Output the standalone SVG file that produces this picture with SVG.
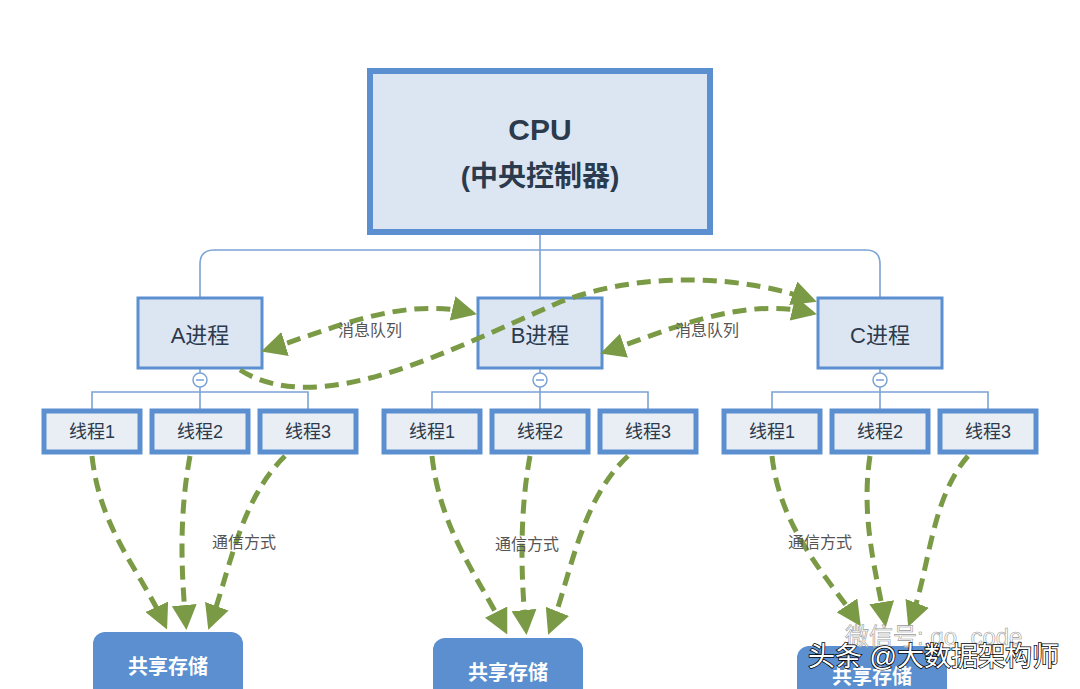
<svg xmlns="http://www.w3.org/2000/svg" width="1080" height="689" viewBox="0 0 1080 689">
<style>
.t{font-family:"Liberation Sans","Noto Sans CJK SC",sans-serif;text-anchor:middle;fill:#2b3a4d}
.box{fill:#dce6f2;stroke:#5b8fd0}
.th{fill:#e9eef5;stroke:#5b8fd0;stroke-width:5}
.ln{fill:none;stroke:#7ba3d6;stroke-width:1.6}
.g{fill:none;stroke:#7a9a45;stroke-width:5;stroke-dasharray:14 8}
.lab{font-family:"Liberation Sans","Noto Sans CJK SC",sans-serif;font-size:16px;fill:#555;text-anchor:middle}
.st{fill:#5b8fd0}
.stt{font-family:"Liberation Sans","Noto Sans CJK SC",sans-serif;font-size:20px;font-weight:bold;fill:#fff;text-anchor:middle}
</style>
<defs>
<marker id="ah" viewBox="0 0 10 10" refX="8" refY="5" markerWidth="5" markerHeight="5" orient="auto-start-reverse" markerUnits="strokeWidth"><path d="M0 0L10 5L0 10z" fill="#7a9a45"/></marker>
</defs>
<rect width="1080" height="689" fill="#fff"/>
<g id="tree-lines">
<path class="ln" d="M540 232V250M200 298V264Q200 250 214 250H866Q880 250 880 264V298M540 250V298"/>
<path class="ln" d="M200 368V373M200 387V392M92 410V392H308V410M200 392V410"/>
<path class="ln" d="M540 368V373M540 387V392M432 410V392H648V410M540 392V410"/>
<path class="ln" d="M880 368V373M880 387V392M772 410V392H988V410M880 392V410"/>
<g fill="#fff" stroke="#7ba3d6" stroke-width="1.5"><circle cx="200" cy="380" r="7"/><circle cx="540" cy="380" r="7"/><circle cx="880" cy="380" r="7"/></g>
<path d="M196 380h8M536 380h8M876 380h8" stroke="#7ba3d6" stroke-width="1.5"/>
</g>
<g id="cpu"><rect class="box" x="370" y="71" width="340" height="161" stroke-width="6"/>
<text class="t" x="540" y="140" font-size="30" font-weight="bold">CPU</text>
<text class="t" x="540" y="186" font-size="28" font-weight="bold">(中央控制器)</text></g>
<g id="procA"><rect class="box" x="138" y="298" width="124" height="70" stroke-width="3"/><text class="t" x="200" y="343" font-size="22">A进程</text></g>
<g id="procB"><rect class="box" x="478" y="298" width="124" height="70" stroke-width="3"/><text class="t" x="540" y="343" font-size="22">B进程</text></g>
<g id="procC"><rect class="box" x="818" y="298" width="124" height="70" stroke-width="3"/><text class="t" x="880" y="343" font-size="22">C进程</text></g>
<g id="threads">
<g><rect class="th" x="44" y="411" width="96" height="41"/><text class="t" x="92" y="438" font-size="18">线程1</text></g>
<g><rect class="th" x="152" y="411" width="96" height="41"/><text class="t" x="200" y="438" font-size="18">线程2</text></g>
<g><rect class="th" x="260" y="411" width="96" height="41"/><text class="t" x="308" y="438" font-size="18">线程3</text></g>
<g><rect class="th" x="384" y="411" width="96" height="41"/><text class="t" x="432" y="438" font-size="18">线程1</text></g>
<g><rect class="th" x="492" y="411" width="96" height="41"/><text class="t" x="540" y="438" font-size="18">线程2</text></g>
<g><rect class="th" x="600" y="411" width="96" height="41"/><text class="t" x="648" y="438" font-size="18">线程3</text></g>
<g><rect class="th" x="724" y="411" width="96" height="41"/><text class="t" x="772" y="438" font-size="18">线程1</text></g>
<g><rect class="th" x="832" y="411" width="96" height="41"/><text class="t" x="880" y="438" font-size="18">线程2</text></g>
<g><rect class="th" x="940" y="411" width="96" height="41"/><text class="t" x="988" y="438" font-size="18">线程3</text></g>
</g>
<g id="storage">
<g><rect class="st" x="93" y="632" width="150" height="70" rx="12"/><text class="stt" x="168" y="674">共享存储</text></g>
<g><rect class="st" x="433" y="638" width="150" height="70" rx="12"/><text class="stt" x="508" y="680">共享存储</text></g>
<g><rect class="st" x="797" y="646" width="150" height="70" rx="12"/><text class="stt" x="872" y="684">共享存储</text></g>
</g>
<g id="connectors">
<path class="g" d="M472 313C400 296 330 330 266 350" marker-start="url(#ah)" marker-end="url(#ah)"/>
<path class="g" d="M812 313C740 296 670 330 605 352" marker-start="url(#ah)" marker-end="url(#ah)"/>
<path class="g" d="M240 370C320 420 450 350 560 302C650 268 750 278 812 300" marker-end="url(#ah)"/>
<path class="g" d="M92 456C100 530 140 570 165 625" marker-end="url(#ah)"/>
<path class="g" d="M190 456C178 520 182 580 186 625" marker-end="url(#ah)"/>
<path class="g" d="M285 456C240 500 230 570 210 625" marker-end="url(#ah)"/>
<path class="g" d="M432 456C440 530 480 580 505 630" marker-end="url(#ah)"/>
<path class="g" d="M530 456C518 520 522 590 526 630" marker-end="url(#ah)"/>
<path class="g" d="M628 456C580 500 570 580 550 630" marker-end="url(#ah)"/>
<path class="g" d="M772 456C780 530 830 580 858 622" marker-end="url(#ah)"/>
<path class="g" d="M870 456C860 520 878 580 885 622" marker-end="url(#ah)"/>
<path class="g" d="M968 456C930 500 930 570 910 622" marker-end="url(#ah)"/>
</g>
<g id="labels">
<text class="lab" x="370" y="336">消息队列</text>
<text class="lab" x="707" y="336">消息队列</text>
<text class="lab" x="244" y="548">通信方式</text>
<text class="lab" x="527" y="550">通信方式</text>
<text class="lab" x="820" y="548">通信方式</text>
</g>
<g id="watermark">
<text x="845" y="645" font-family="Liberation Sans,Noto Sans CJK SC,sans-serif" font-size="24" fill="#fff" fill-opacity="0.6" stroke="#999" stroke-width="0.6">微信号: go_code</text>
<text x="808" y="666" font-family="Liberation Sans,Noto Sans CJK SC,sans-serif" font-size="27" fill="#fff" stroke="#000" stroke-width="1.5" paint-order="stroke">头条 @大数据架构师</text>
</g>
</svg>
